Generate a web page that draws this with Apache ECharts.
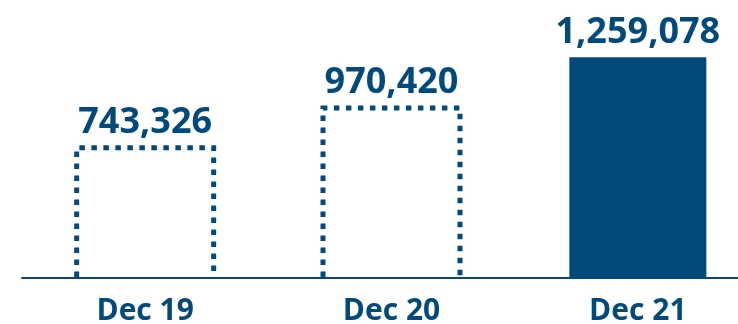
<!DOCTYPE html>
<html>
<head>
<meta charset="utf-8">
<script src="https://cdn.jsdelivr.net/npm/echarts@6/dist/echarts.min.js"></script>
<style>
  html, body { margin: 0; padding: 0; background: #ffffff; }
  #chart { width: 738px; height: 324px; }
</style>
</head>
<body>
<div id="chart"></div>
<script>
// Year-end totals
const categories = ['Dec 19', 'Dec 20', 'Dec 21'];
const values = [743326, 970420, 1259078];

const BLUE = '#034a7c';
const FONT = '"Open Sans", Lato, sans-serif';
const BAR_W = 137;

const fmt = v => v.toLocaleString('en-US');

const chart = echarts.init(document.getElementById('chart'), null, { renderer: 'canvas' });

chart.setOption({
  animation: false,
  backgroundColor: '#ffffff',
  grid: { left: 22, right: -23, top: 32.6, bottom: 46, containLabel: false, outerBoundsMode: 'none' },
  xAxis: {
    type: 'category',
    data: categories,
    axisTick: { show: false },
    axisLine: { show: true, lineStyle: { color: BLUE, width: 2 } },
    axisLabel: {
      color: BLUE,
      fontFamily: FONT,
      fontWeight: 'bold',
      fontSize: 30,
      margin: 18
    }
  },
  yAxis: {
    type: 'value',
    min: 0,
    max: 1400000,
    show: false
  },
  series: [{
    type: 'custom',
    clip: false,
    data: values.map((v, i) => [i, v]),
    renderItem: function (params, api) {
      const idx = api.value(0);
      const v = api.value(1);
      const top = api.coord([idx, v]);
      const base = api.coord([idx, 0]);
      const x0 = top[0] - BAR_W / 2;
      const x1 = top[0] + BAR_W / 2;
      // the latest year is a solid bar, earlier years are dotted outlines
      const filled = idx === values.length - 1;
      const bar = filled
        ? {
            type: 'rect',
            shape: { x: x0, y: top[1], width: BAR_W, height: base[1] - top[1] },
            style: { fill: BLUE }
          }
        : {
            type: 'polyline',
            shape: { points: [[x0, base[1] - 1], [x0, top[1]], [x1, top[1]], [x1, base[1] - 1]] },
            style: { stroke: BLUE, fill: null, lineWidth: 5, lineDash: [5.5, 6.5], lineCap: 'butt' }
          };
      const label = {
        type: 'text',
        x: top[0],
        y: top[1] - 7,
        style: {
          text: fmt(v),
          fill: BLUE,
          font: 'bold 36px ' + FONT,
          align: 'center',
          verticalAlign: 'bottom'
        }
      };
      return { type: 'group', children: [bar, label] };
    }
  }]
});
</script>
</body>
</html>
